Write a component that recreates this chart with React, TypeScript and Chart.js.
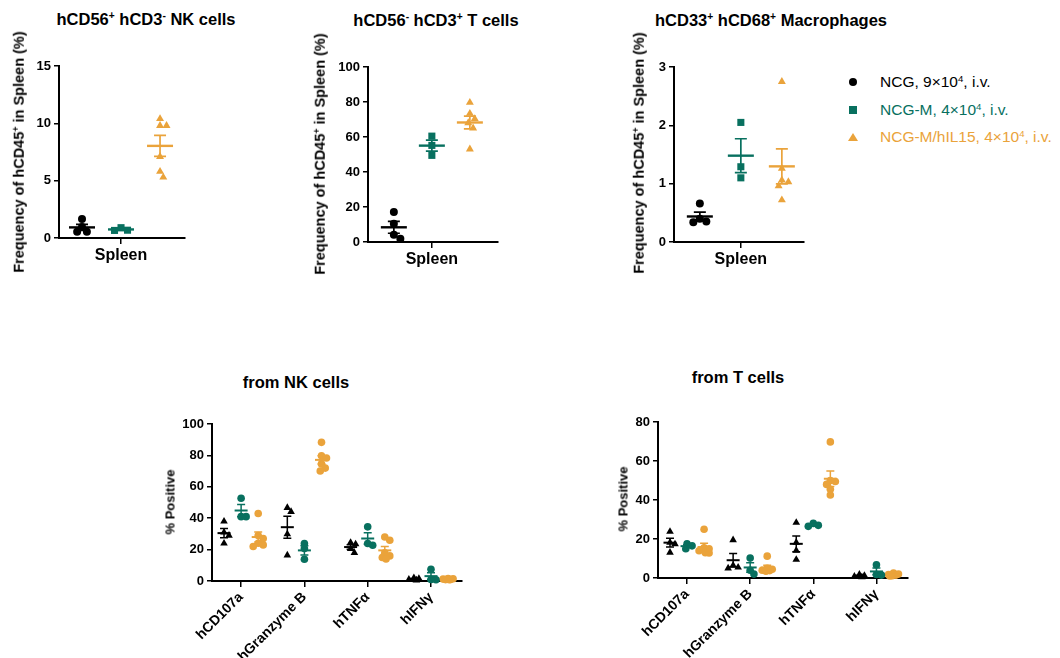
import React, { useEffect, useRef } from "react";
import { Chart, registerables } from "chart.js";
Chart.register(...registerables);

const FONT = "'Liberation Sans', Arial, Helvetica, sans-serif";
const BLACK = "#000000";
const TEAL = "#08705f";
const ORANGE = "#eaa33b";

// ---------- legend ----------
const groupBase = ["NCG, 9×10", "NCG-M, 4×10", "NCG-M/hIL15, 4×10"];
const groupExp = ["4", "4", "4"];
const groupTail = [", i.v.", ", i.v.", ", i.v."];
const groupColors = [BLACK, TEAL, ORANGE];

// ---------- spleen panels (% of hCD45+) ----------
const spleenTicks = ["Spleen"];
const nkNCG = [1.65, 0.95, 0.55, 0.55];
const nkNCGM = [0.9, 0.68, 0.66];
const nkIL15 = [10.4, 9.8, 9.8, 7.1, 5.8, 5.3];

const tNCG = [17.1, 10.4, 4.2, 1.9];
const tNCGM = [60.5, 55.2, 49.5];
const tIL15 = [79.7, 73.4, 70.4, 68.1, 65.1, 53.1];

const macNCG = [0.66, 0.4, 0.35, 0.34];
const macNCGM = [2.05, 1.29, 1.1];
const macIL15 = [2.75, 1.26, 1.06, 1.03, 0.96, 0.72];

// ---------- cytokine panels (% Positive) ----------
const markerTicks = ["hCD107a", "hGranzyme B", "hTNFα", "hIFNγ"];

const nkFnNCG = [
  [38, 31, 29, 24],
  [46.7, 44.1, 29.9, 16.4],
  [24.5, 23.5, 20.5, 18],
  [2, 1.5, 1, 0.5],
];
const nkFnNCGM = [
  [52.7, 41, 41],
  [23.9, 20.7, 13.9],
  [34.5, 23.9, 22.8],
  [7.5, 1, 0.8],
];
const nkFnIL15 = [
  [43, 29, 27, 24, 23, 22],
  [88.3, 79.7, 78.3, 74.6, 71.9, 70.1],
  [28, 26, 18, 16, 15, 14],
  [1.6, 1.4, 1.2, 1.0, 0.9, 0.8],
];

const tFnNCG = [
  [23.8, 18.2, 17.4, 13.1],
  [19.5, 6.5, 5.5, 5],
  [28.4, 18.2, 14.1, 9.4],
  [1.8, 1.2, 0.8, 0.5],
];
const tFnNCGM = [
  [17.5, 16.5, 15],
  [10.2, 4, 2],
  [28, 27, 26.5],
  [6.8, 1.8, 1.5],
];
const tFnIL15 = [
  [25, 15.5, 15, 14, 13, 12.8],
  [11.2, 5, 4.5, 4, 3.8, 3.5],
  [69.8, 50, 49.5, 48, 45.5, 42.6],
  [2.5, 2, 1.8, 1.5, 1.2, 1.0],
];

// ---------- helpers ----------
function swarm(values: number[], yppu: number, xppu: number, diam: number, maxSpread: number): number[] {
  const order = values.map((_, i) => i).sort((a, b) => values[b] - values[a]);
  const placed: { x: number; y: number }[] = [];
  const res = new Array(values.length).fill(0);
  const cands: number[] = [0];
  for (let k = 1; (k * diam) / 4 <= maxSpread; k++) cands.push((k * diam) / 4, (-k * diam) / 4);
  for (const i of order) {
    const y = values[i] * yppu;
    let best = 0;
    let found = false;
    let bestScore = -1;
    for (const c of cands) {
      const minD = placed.length ? Math.min(...placed.map((p) => Math.hypot(p.x - c, p.y - y))) : Infinity;
      if (minD >= diam) {
        best = c;
        found = true;
        break;
      }
      if (minD > bestScore) {
        bestScore = minD;
        best = c;
      }
    }
    if (!found && placed.length === 0) best = 0;
    placed.push({ x: best, y });
    res[i] = best / xppu;
  }
  return res;
}

const meanSemPlugin = {
  id: "meanSem",
  afterDatasetsDraw(chart: any) {
    const { ctx } = chart;
    const xs = chart.scales.x;
    const ys = chart.scales.y;
    chart.data.datasets.forEach((ds: any) => {
      const ms = ds.meanSem;
      if (!ms) return;
      ctx.save();
      ctx.strokeStyle = ds.borderColor;
      ms.groups.forEach((vals: number[], gi: number) => {
        const n = vals.length;
        const mean = vals.reduce((a, b) => a + b, 0) / n;
        const sd = Math.sqrt(vals.reduce((a, b) => a + (b - mean) * (b - mean), 0) / (n - 1));
        const sem = sd / Math.sqrt(n);
        const cx = xs.getPixelForValue(ms.centers[gi]);
        const my = ys.getPixelForValue(mean);
        const ty = ys.getPixelForValue(mean + sem);
        const by = ys.getPixelForValue(mean - sem);
        ctx.lineWidth = ms.errWidth;
        ctx.beginPath();
        ctx.moveTo(cx, ty);
        ctx.lineTo(cx, by);
        ctx.moveTo(cx - ms.capHalf, ty);
        ctx.lineTo(cx + ms.capHalf, ty);
        ctx.moveTo(cx - ms.capHalf, by);
        ctx.lineTo(cx + ms.capHalf, by);
        ctx.stroke();
        ctx.lineWidth = ms.meanWidth;
        ctx.beginPath();
        ctx.moveTo(cx - ms.meanHalf, my);
        ctx.lineTo(cx + ms.meanHalf, my);
        ctx.stroke();
      });
      ctx.restore();
    });
  },
};

type Series = { color: string; shape: string; radius: number; offset: number; values: number[][] };
type Spec = {
  canvas: { l: number; t: number; w: number; h: number };
  plot: { l: number; r: number; t: number; b: number };
  yMin: number;
  yMax: number;
  yStep: number;
  xMin: number;
  xMax: number;
  tickValues: number[];
  tickLabels: string[];
  rotate: number;
  xFont: number;
  yFont: number;
  diam: number;
  maxSpread: number;
  meanHalf: number;
  capHalf: number;
  meanWidth: number;
  errWidth: number;
  series: Series[];
};

function ChartPanel({ spec }: { spec: Spec }) {
  const ref = useRef<HTMLCanvasElement | null>(null);
  useEffect(() => {
    const { canvas, plot } = spec;
    const xppu = (plot.r - plot.l) / (spec.xMax - spec.xMin);
    const yppu = (plot.b - plot.t) / (spec.yMax - spec.yMin);
    const datasets = spec.series.map((s) => {
      const pts: { x: number; y: number }[] = [];
      const centers: number[] = [];
      s.values.forEach((vals, c) => {
        const center = spec.tickValues[c] + s.offset;
        const offs = swarm(vals, yppu, xppu, spec.diam, spec.maxSpread);
        vals.forEach((v, i) => pts.push({ x: center + offs[i], y: v }));
        centers.push(center);
      });
      return {
        data: pts,
        backgroundColor: s.color,
        borderColor: s.color,
        pointStyle: s.shape,
        pointRadius: s.radius,
        pointHoverRadius: s.radius,
        pointBorderWidth: 0,
        borderWidth: 0,
        clip: false,
        meanSem: {
          centers,
          groups: s.values,
          meanHalf: spec.meanHalf,
          capHalf: spec.capHalf,
          meanWidth: spec.meanWidth,
          errWidth: spec.errWidth,
        },
      };
    });
    const chart = new Chart(ref.current as HTMLCanvasElement, {
      type: "scatter",
      data: { datasets } as any,
      options: {
        animation: false,
        responsive: false,
        maintainAspectRatio: false,
        events: [],
        layout: {
          padding: { left: 0, top: plot.t - canvas.t, right: canvas.l + canvas.w - plot.r, bottom: 0 },
        },
        plugins: { legend: { display: false }, tooltip: { enabled: false } },
        scales: {
          x: {
            type: "linear",
            min: spec.xMin,
            max: spec.xMax,
            afterFit: (s: any) => {
              s.height = canvas.t + canvas.h - plot.b;
            },
            afterBuildTicks: (s: any) => {
              s.ticks = spec.tickValues.map((v) => ({ value: v }));
            },
            border: { display: true, color: "#000", width: 2 },
            grid: { drawOnChartArea: false, drawTicks: true, tickLength: 6, color: "#000", lineWidth: 1.5 },
            ticks: {
              autoSkip: false,
              maxRotation: spec.rotate,
              minRotation: spec.rotate,
              color: "#000",
              padding: 2,
              font: { family: FONT, size: spec.xFont, weight: "bold" },
              callback: (v: any) => {
                const i = spec.tickValues.indexOf(Number(v));
                return i >= 0 ? spec.tickLabels[i] : "";
              },
            },
          },
          y: {
            type: "linear",
            min: spec.yMin,
            max: spec.yMax,
            afterFit: (s: any) => {
              s.width = plot.l - canvas.l;
            },
            border: { display: true, color: "#000", width: 2 },
            grid: { drawOnChartArea: false, drawTicks: true, tickLength: 5, color: "#000", lineWidth: 1.5 },
            ticks: {
              stepSize: spec.yStep,
              color: "#000",
              padding: 3,
              font: { family: FONT, size: spec.yFont, weight: "bold" },
            },
          },
        },
      } as any,
      plugins: [meanSemPlugin as any],
    });
    return () => chart.destroy();
  }, [spec]);
  const { canvas } = spec;
  return (
    <canvas
      ref={ref}
      width={canvas.w}
      height={canvas.h}
      style={{ position: "absolute", left: canvas.l, top: canvas.t, width: canvas.w, height: canvas.h }}
    />
  );
}

const topSeries = (a: number[], b: number[], c: number[]): Series[] => [
  { color: BLACK, shape: "circle", radius: 4, offset: -1, values: [a] },
  { color: TEAL, shape: "rect", radius: 5, offset: 0, values: [b] },
  { color: ORANGE, shape: "triangle", radius: 4.6, offset: 1, values: [c] },
];
const bottomSeries = (a: number[][], b: number[][], c: number[][]): Series[] => [
  { color: BLACK, shape: "triangle", radius: 4.4, offset: -0.27, values: a },
  { color: TEAL, shape: "circle", radius: 3.8, offset: 0, values: b },
  { color: ORANGE, shape: "circle", radius: 3.8, offset: 0.27, values: c },
];

const topCommon = {
  tickValues: [1],
  tickLabels: spleenTicks,
  rotate: 0,
  xFont: 16,
  yFont: 13,
  diam: 6.5,
  maxSpread: 9,
  meanHalf: 13,
  capHalf: 6,
  meanWidth: 2.4,
  errWidth: 1.7,
};
const bottomCommon = {
  tickValues: [0, 1, 2, 3],
  tickLabels: markerTicks,
  rotate: 45,
  xFont: 14,
  yFont: 13,
  diam: 5,
  maxSpread: 5.5,
  meanHalf: 6.5,
  capHalf: 4,
  meanWidth: 2,
  errWidth: 1.5,
};

const specs: Spec[] = [
  {
    ...topCommon,
    canvas: { l: 0, t: 40, w: 200, h: 240 },
    plot: { l: 59, r: 185, t: 66, b: 238 },
    yMin: 0, yMax: 15, yStep: 5, xMin: -0.59, xMax: 2.64,
    series: topSeries(nkNCG, nkNCGM, nkIL15),
  },
  {
    ...topCommon,
    canvas: { l: 290, t: 40, w: 230, h: 240 },
    plot: { l: 368, r: 498, t: 67, b: 242 },
    yMin: 0, yMax: 100, yStep: 20, xMin: -0.68, xMax: 2.74,
    series: topSeries(tNCG, tNCGM, tIL15),
  },
  {
    ...topCommon,
    canvas: { l: 620, t: 40, w: 210, h: 240 },
    plot: { l: 674, r: 804, t: 67, b: 242 },
    yMin: 0, yMax: 3, yStep: 1, xMin: -0.63, xMax: 2.54,
    series: topSeries(macNCG, macNCGM, macIL15),
  },
  {
    ...bottomCommon,
    canvas: { l: 150, t: 400, w: 330, h: 258 },
    plot: { l: 212, r: 462, t: 424, b: 581 },
    yMin: 0, yMax: 100, yStep: 20, xMin: -0.46, xMax: 3.49,
    series: bottomSeries(nkFnNCG, nkFnNCGM, nkFnIL15),
  },
  {
    ...bottomCommon,
    canvas: { l: 600, t: 400, w: 320, h: 258 },
    plot: { l: 658, r: 908, t: 422, b: 578 },
    yMin: 0, yMax: 80, yStep: 20, xMin: -0.46, xMax: 3.5,
    series: bottomSeries(tFnNCG, tFnNCGM, tFnIL15),
  },
];

const sup: React.CSSProperties = { fontSize: "0.62em", verticalAlign: "0.55em", lineHeight: 0 };

function Title({ x, y, children }: { x: number; y: number; children: React.ReactNode }) {
  return (
    <div
      style={{
        position: "absolute",
        left: x,
        top: y,
        transform: "translate(-50%,-50%)",
        whiteSpace: "nowrap",
        fontFamily: FONT,
        fontWeight: "bold",
        fontSize: 16.5,
        color: "#000",
        lineHeight: 1,
      }}
    >
      {children}
    </div>
  );
}

function YTitle({ x, y, size, children }: { x: number; y: number; size: number; children: React.ReactNode }) {
  return (
    <div
      style={{
        position: "absolute",
        left: x,
        top: y,
        transform: "translate(-50%,-50%) rotate(-90deg)",
        whiteSpace: "nowrap",
        fontFamily: FONT,
        fontWeight: "bold",
        fontSize: size,
        color: "#000",
        lineHeight: 1,
      }}
    >
      {children}
    </div>
  );
}

const freqTitle = (
  <>
    Frequency of hCD45<span style={sup}>+</span> in Spleen (%)
  </>
);

function LegendMarker({ i }: { i: number }) {
  const c = groupColors[i];
  if (i === 0)
    return <div style={{ width: 8, height: 8, borderRadius: "50%", background: c }} />;
  if (i === 1) return <div style={{ width: 8, height: 8, background: c }} />;
  return (
    <div
      style={{
        width: 0,
        height: 0,
        borderLeft: "5px solid transparent",
        borderRight: "5px solid transparent",
        borderBottom: `8px solid ${c}`,
      }}
    />
  );
}

export default function App() {
  const rows = [82, 110, 137];
  return (
    <div
      style={{
        position: "absolute",
        left: 0,
        top: 0,
        width: 1060,
        height: 658,
        background: "#fff",
        overflow: "hidden",
      }}
    >
      {specs.map((s, i) => (
        <ChartPanel key={i} spec={s} />
      ))}
      <Title x={146} y={19}>
        hCD56<span style={sup}>+</span> hCD3<span style={sup}>-</span> NK cells
      </Title>
      <Title x={436} y={20}>
        hCD56<span style={sup}>-</span> hCD3<span style={sup}>+</span> T cells
      </Title>
      <Title x={771} y={20}>
        hCD33<span style={sup}>+</span> hCD68<span style={sup}>+</span> Macrophages
      </Title>
      <Title x={296} y={382}>from NK cells</Title>
      <Title x={738} y={377}>from T cells</Title>
      <YTitle x={19} y={152} size={14.5}>{freqTitle}</YTitle>
      <YTitle x={320} y={154} size={14.5}>{freqTitle}</YTitle>
      <YTitle x={639} y={153} size={14.5}>{freqTitle}</YTitle>
      <YTitle x={170} y={502} size={13}>% Positive</YTitle>
      <YTitle x={623} y={499} size={13}>% Positive</YTitle>
      {rows.map((y, i) => (
        <React.Fragment key={i}>
          <div style={{ position: "absolute", left: 853, top: y, transform: "translate(-50%,-50%)" }}>
            <LegendMarker i={i} />
          </div>
          <div
            style={{
              position: "absolute",
              left: 880,
              top: y,
              transform: "translateY(-50%)",
              whiteSpace: "nowrap",
              fontFamily: FONT,
              fontSize: 15.5,
              color: groupColors[i],
              lineHeight: 1,
            }}
          >
            {groupBase[i]}
            <span style={sup}>{groupExp[i]}</span>
            {groupTail[i]}
          </div>
        </React.Fragment>
      ))}
    </div>
  );
}
